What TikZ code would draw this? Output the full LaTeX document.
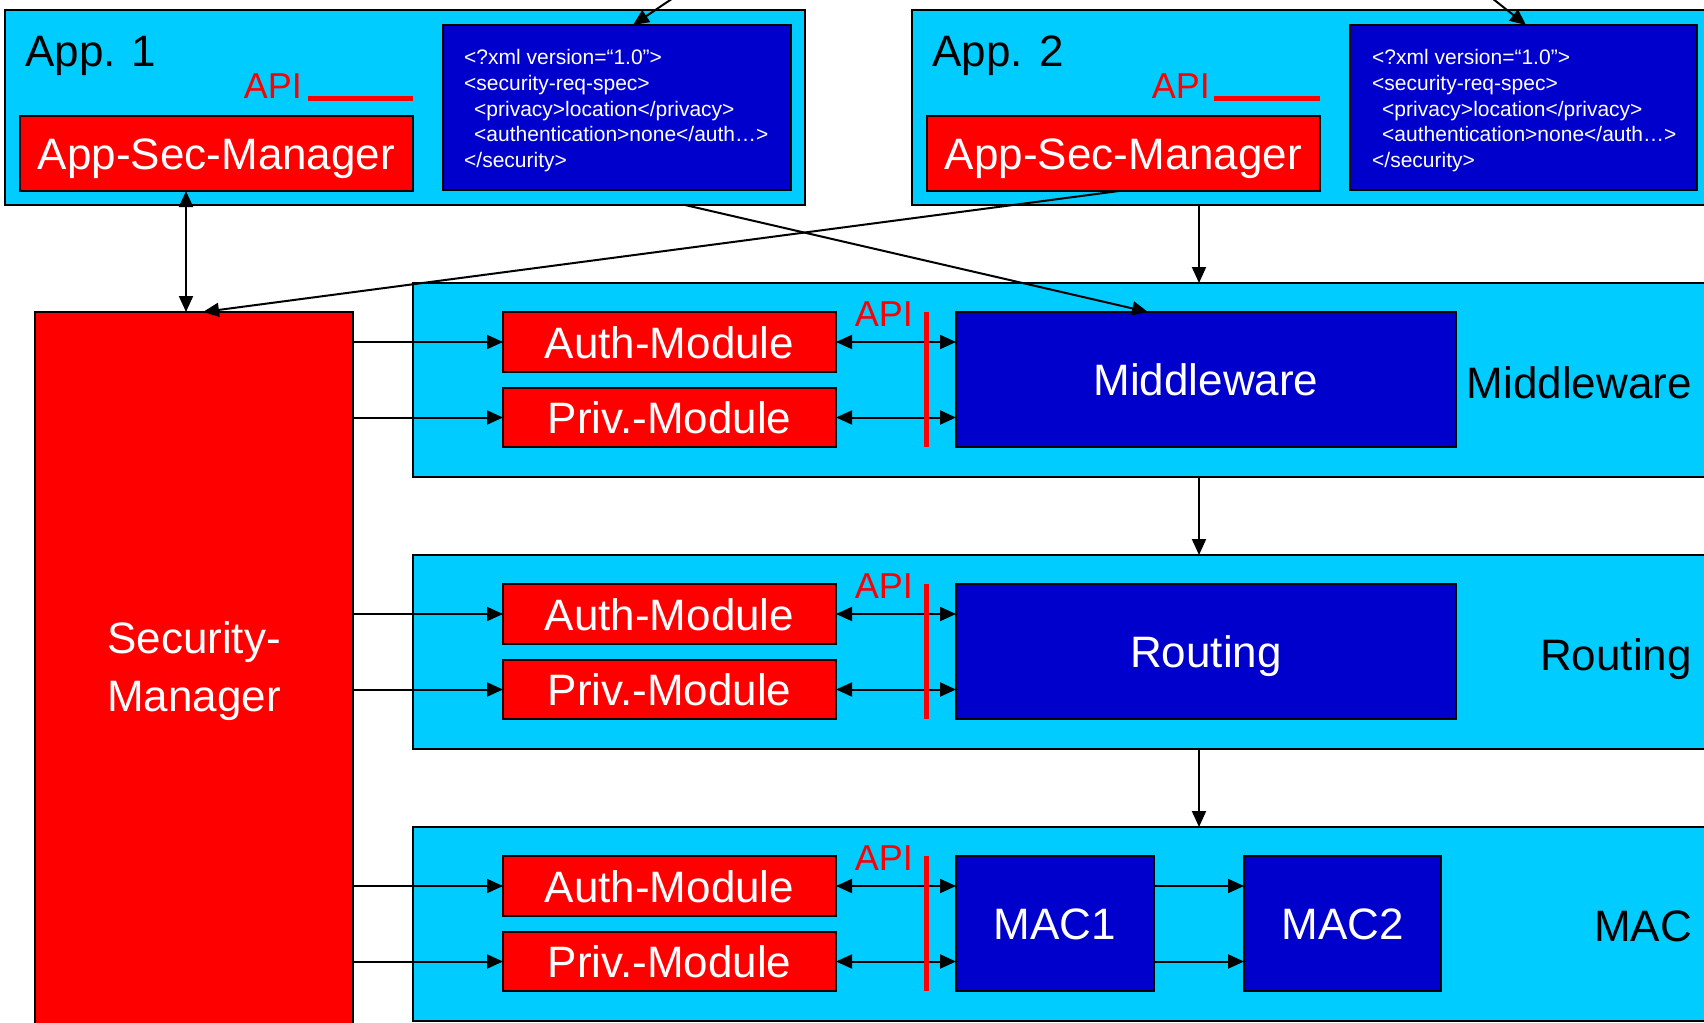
\documentclass[tikz,border=0pt]{standalone}
\usepackage{fontspec}
\setmainfont{Liberation Sans}
\usetikzlibrary{arrows.meta}
\definecolor{cy}{HTML}{00CCFF}
\definecolor{db}{HTML}{0000CC}
\definecolor{rd}{HTML}{FF0000}
\newcommand\myBig{\fontsize{44}{52}\selectfont}
\newcommand\myApi{\fontsize{36}{40}\selectfont}
\newcommand\myXml{\fontsize{21}{25.8}\selectfont}
\begin{document}
\begin{tikzpicture}[x=1pt,y=-1pt,
  box/.style={draw=black,line width=2,inner sep=0,outer sep=0},
  cyanbox/.style={box,fill=cy},
  redbox/.style={box,fill=rd,text=white,font=\myBig,text height=32,text depth=0},
  bluebox/.style={box,fill=db,text=white,font=\myBig,text height=32,text depth=0},
  xmlbox/.style={box,fill=db},
  xmltext/.style={inner sep=0,text=white,font=\myXml,align=left,anchor=north west},
  biglabel/.style={inner sep=0,font=\myBig,text=black},
  apilabel/.style={inner sep=0,font=\myApi,text=rd,anchor=base east},
  apiline/.style={draw=rd,line width=5},
  conn/.style={draw=black,line width=2,-{Triangle[length=16pt,width=14pt]}},
  dconn/.style={draw=black,line width=2,{Triangle[length=16pt,width=14pt]}-{Triangle[length=16pt,width=14pt]}}
]
\useasboundingbox (0,0) rectangle (1704,1022);
\clip (0,0) rectangle (1704,1022);

% ---------- applications ----------
\node[cyanbox,minimum width=800,minimum height=195] (app1) at (405,107.5) {};
\node[cyanbox,minimum width=808,minimum height=195] (app2) at (1316,107.5) {};
\node[biglabel,anchor=base west] (app1lbl) at (25,67) {App. 1};
\node[biglabel,anchor=base west] (app2lbl) at (932,67) {App. 2};
\node[redbox,minimum width=393,minimum height=75] (asm1) at (216.5,153.5) {App-Sec-Manager};
\node[redbox,minimum width=393,minimum height=75] (asm2) at (1123.5,153.5) {App-Sec-Manager};
\node[xmlbox,minimum width=348,minimum height=165] (xml1) at (617,107.5) {};
\node[xmlbox,minimum width=347,minimum height=165] (xml2) at (1523.5,107.5) {};
\node[xmltext] (xml1t) at (464,49) {<?xml version=“1.0”>\\<security-req-spec>\\\hspace*{10pt}<privacy>location</privacy>\\\hspace*{10pt}<authentication>none</auth…>\\</security>};
\node[xmltext] (xml2t) at (1372,49) {<?xml version=“1.0”>\\<security-req-spec>\\\hspace*{10pt}<privacy>location</privacy>\\\hspace*{10pt}<authentication>none</auth…>\\</security>};
\node[apilabel] (api1) at (302,99) {API};
\node[apilabel] (api2) at (1210,99) {API};

% ---------- security manager ----------
\node[box,fill=rd,text=white,font=\fontsize{44}{58}\selectfont,align=center,minimum width=318,minimum height=718] (sec) at (194,671) {Security-\\Manager};

% ---------- layers ----------
\node[cyanbox,minimum width=1307,minimum height=194] (lmw) at (1066.5,380) {};
\node[cyanbox,minimum width=1307,minimum height=194] (lrt) at (1066.5,652) {};
\node[cyanbox,minimum width=1307,minimum height=194] (lmac) at (1066.5,924) {};

\node[redbox,minimum width=333,minimum height=60] (a1) at (669.5,342) {Auth-Module};
\node[redbox,minimum width=333,minimum height=59] (p1) at (669.5,417.5) {Priv.-Module};
\node[redbox,minimum width=333,minimum height=60] (a2) at (669.5,614) {Auth-Module};
\node[redbox,minimum width=333,minimum height=59] (p2) at (669.5,689.5) {Priv.-Module};
\node[redbox,minimum width=333,minimum height=60] (a3) at (669.5,886) {Auth-Module};
\node[redbox,minimum width=333,minimum height=59] (p3) at (669.5,961.5) {Priv.-Module};

\node[bluebox,minimum width=500,minimum height=135] (mw) at (1206,379.5) {Middleware};
\node[bluebox,minimum width=500,minimum height=135] (rt) at (1206,651.5) {Routing};
\node[bluebox,minimum width=198,minimum height=135] (mac1) at (1055,923.5) {MAC1};
\node[bluebox,minimum width=197,minimum height=135] (mac2) at (1342.5,923.5) {MAC2};

\node[biglabel,anchor=base east] (lmwlbl) at (1692,398) {Middleware};
\node[biglabel,anchor=base east] (lrtlbl) at (1692,670) {Routing};
\node[biglabel,anchor=base east] (lmaclbl) at (1692,941) {MAC};

\node[apilabel] (apim) at (913,326) {API};
\node[apilabel] (apir) at (913,598) {API};
\node[apilabel] (apimac) at (913,870) {API};

% ---------- connectors ----------
\coordinate (vx1) at (186,0);
\coordinate (vx2) at (1199,0);
\coordinate (t1) at (700,-20);
\coordinate (t2) at (1469,-20);

\draw[dconn] (asm1.south -| vx1) -- (sec.north -| vx1);
\draw[conn] ([xshift=-4.5pt]asm2.south) -- ([xshift=9pt]sec.north);
\draw[conn] ([xshift=280pt]app1.south) -- ([xshift=-58pt]mw.north);
\draw[conn] (app2.south -| vx2) -- (lmw.north -| vx2);
\draw[conn] (lmw.south -| vx2) -- (lrt.north -| vx2);
\draw[conn] (lrt.south -| vx2) -- (lmac.north -| vx2);
\draw[conn] (t1) -- ([xshift=16pt]xml1.north);
\draw[conn] (t2) -- ([xshift=2.5pt]xml2.north);

\foreach \a/\p/\m in {a1/p1/mw, a2/p2/rt, a3/p3/mac1}{
  \draw[conn] (\a.west -| sec.east) -- (\a.west);
  \draw[conn] (\p.west -| sec.east) -- (\p.west);
  \draw[dconn] (\a.east) -- (\a.east -| \m.west);
  \draw[dconn] (\p.east) -- (\p.east -| \m.west);
}
\draw[conn] (a3.east -| mac1.east) -- (a3.east -| mac2.west);
\draw[conn] (p3.east -| mac1.east) -- (p3.east -| mac2.west);

% ---------- API bars ----------
\draw[apiline] (api1.base east) ++(6,0) -- (asm1.north east |- api1.base east);
\draw[apiline] (api2.base east) ++(4,0) -- (asm2.north east |- api2.base east);
\foreach \m/\p in {mw/p1, rt/p2, mac1/p3}{
  \draw[apiline] (926,0 |- \m.north) -- (926,0 |- \p.south);
}
\end{tikzpicture}
\end{document}
